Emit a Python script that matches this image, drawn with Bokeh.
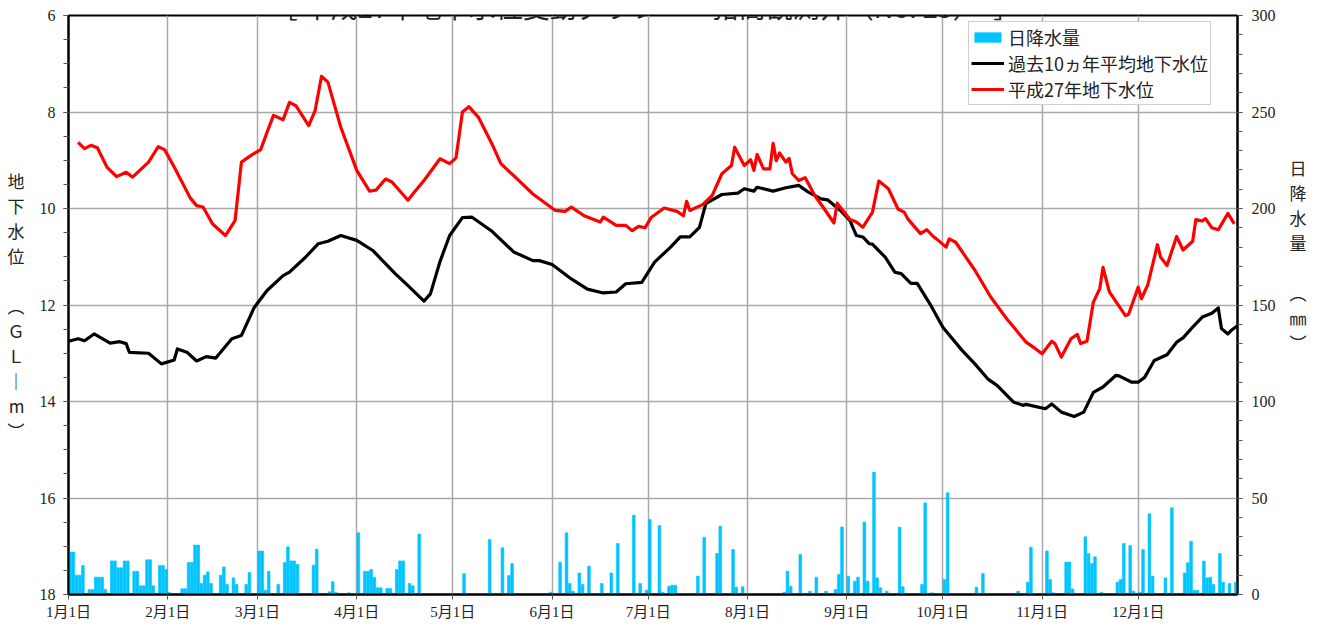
import pandas as pd
from bokeh.plotting import figure
from bokeh.models import Range1d, LinearAxis, FixedTicker, Label, Legend, LegendItem
from bokeh.embed import file_html
from bokeh.resources import INLINE

# ---------------- data ----------------
title_text = "［ 平成27年地下水位変動グラフ　　猪高観測井（No. 25）　］"
month_labels = [f"{m}月1日" for m in range(1, 13)]
year_start = pd.Timestamp("2015-01-01")
month_ticks = [(pd.Timestamp(2015, m, 1) - year_start).days for m in range(1, 13)]

# day offset from 1 Jan 2015
cur_day = [3, 5, 7, 9, 12, 15, 18, 20, 25, 28, 30, 33, 38, 40, 42, 45, 49, 52, 54, 57,
           60, 62, 64, 67, 69, 71, 75, 77, 79, 81, 85, 90, 94, 96, 99, 101, 106, 108, 111, 116,
           119, 121, 123, 125, 128, 132, 135, 139, 145, 152, 155, 157, 161, 166, 167, 171, 174, 176, 178, 180,
           182, 186, 190, 192, 193, 194, 198, 201, 204, 207, 208, 211, 213, 214, 215, 217, 219, 220, 221, 222,
           224, 225, 226, 228, 230, 233, 236, 239, 240, 244, 246, 248, 251, 253, 256, 259, 261, 262, 266, 268,
           270, 271, 274, 275, 277, 283, 288, 293, 299, 302, 304, 307, 308, 310, 313, 315, 316, 318, 320, 322,
           323, 325, 330, 331, 334, 335, 337, 340, 341, 343, 346, 348, 351, 352, 354, 355, 357, 359, 362, 364]
cur_level = [8.63, 8.76, 8.69, 8.74, 9.14, 9.34, 9.25, 9.35, 9.04, 8.72, 8.78, 9.14, 9.78, 9.94, 9.97, 10.32, 10.56, 10.25, 9.04, 8.90,
             8.78, 8.42, 8.07, 8.16, 7.80, 7.87, 8.28, 7.97, 7.26, 7.38, 8.31, 9.21, 9.64, 9.62, 9.39, 9.45, 9.83, 9.66, 9.42, 8.97,
             9.07, 8.95, 8.00, 7.89, 8.11, 8.63, 9.07, 9.32, 9.70, 10.04, 10.06, 9.97, 10.15, 10.28, 10.18, 10.35, 10.35, 10.46, 10.37, 10.40,
             10.18, 9.99, 10.06, 10.15, 9.85, 10.04, 9.92, 9.73, 9.28, 9.11, 8.73, 9.11, 8.99, 9.21, 8.88, 9.18, 9.18, 8.65, 9.01, 8.85,
             9.04, 8.96, 9.28, 9.42, 9.36, 9.73, 10.01, 10.30, 9.89, 10.23, 10.28, 10.39, 10.08, 9.43, 9.59, 10.01, 10.08, 10.21, 10.52, 10.44,
             10.58, 10.63, 10.80, 10.63, 10.70, 11.28, 11.84, 12.29, 12.77, 12.91, 13.01, 12.75, 12.80, 13.08, 12.70, 12.61, 12.80, 12.75, 11.94, 11.66,
             11.22, 11.73, 12.22, 12.19, 11.63, 11.87, 11.58, 10.75, 11.01, 11.18, 10.58, 10.86, 10.68, 10.23, 10.26, 10.21, 10.40, 10.44, 10.10, 10.32]

avg_day = [0, 3, 5, 8, 13, 16, 18, 19, 25, 29, 33, 34, 37, 40, 43, 46, 51, 54, 58, 62,
           67, 69, 74, 78, 81, 85, 90, 95, 102, 106, 111, 113, 116, 119, 123, 126, 129, 132, 139, 145,
           147, 151, 157, 162, 167, 171, 174, 179, 183, 188, 191, 194, 197, 199, 204, 209, 211, 214, 215, 220,
           224, 228, 231, 235, 237, 241, 244, 246, 248, 250, 251, 255, 258, 260, 263, 265, 269, 273, 279, 283,
           287, 290, 295, 298, 299, 305, 307, 310, 314, 317, 320, 323, 327, 328, 332, 334, 336, 339, 343, 346,
           348, 351, 354, 357, 359, 360, 362, 363, 365]
avg_level = [12.75, 12.70, 12.74, 12.60, 12.79, 12.76, 12.80, 12.98, 13.00, 13.22, 13.14, 12.91, 12.98, 13.16, 13.07, 13.10, 12.70, 12.63, 12.05, 11.70,
             11.39, 11.32, 11.01, 10.73, 10.68, 10.56, 10.66, 10.87, 11.35, 11.60, 11.92, 11.77, 11.10, 10.56, 10.19, 10.18, 10.32, 10.46, 10.90, 11.08,
             11.08, 11.16, 11.46, 11.67, 11.75, 11.73, 11.56, 11.53, 11.11, 10.80, 10.59, 10.59, 10.39, 9.90, 9.71, 9.68, 9.59, 9.64, 9.56, 9.64,
             9.57, 9.52, 9.66, 9.80, 9.82, 10.04, 10.25, 10.56, 10.59, 10.73, 10.74, 11.01, 11.32, 11.35, 11.55, 11.55, 11.98, 12.46, 12.94, 13.22,
             13.53, 13.67, 14.01, 14.08, 14.06, 14.15, 14.05, 14.22, 14.31, 14.22, 13.81, 13.70, 13.46, 13.47, 13.60, 13.60, 13.50, 13.15, 13.03, 12.77,
             12.68, 12.46, 12.25, 12.17, 12.06, 12.49, 12.60, 12.53, 12.43]

rain_day = [0, 1, 2, 3, 4, 6, 7, 8, 9, 10, 11, 13, 14, 15, 16, 17, 18, 20, 21, 22,
            23, 24, 25, 26, 28, 29, 30, 31, 35, 36, 37, 38, 39, 40, 41, 42, 43, 44, 47, 48,
            49, 51, 52, 55, 56, 59, 60, 61, 62, 65, 67, 68, 69, 70, 71, 76, 77, 81, 82, 83,
            87, 90, 92, 93, 94, 95, 96, 97, 99, 100, 102, 103, 104, 106, 107, 109, 123, 131, 135, 137,
            138, 150, 153, 155, 156, 157, 159, 160, 162, 166, 169, 171, 176, 178, 180, 181, 184, 185, 187, 188,
            189, 196, 198, 202, 203, 207, 208, 210, 223, 224, 225, 228, 231, 233, 236, 239, 240, 241, 243, 245,
            246, 248, 249, 251, 252, 253, 255, 259, 260, 266, 267, 269, 273, 274, 283, 285, 296, 299, 300, 301,
            305, 306, 307, 311, 312, 313, 317, 318, 319, 320, 322, 327, 328, 329, 331, 332, 334, 335, 337, 338,
            342, 344, 348, 349, 350, 351, 352, 354, 355, 356, 357, 359, 360, 362, 364]
rain_mm = [22, 22, 10, 10, 15, 2.6, 2.6, 9, 9, 9, 2.6, 17.4, 17.4, 13.8, 13.8, 17.4, 17.4, 12, 12, 4.5,
           4.5, 18, 18, 4.5, 15, 15, 13, 1, 3, 3, 16.6, 16.6, 25.6, 25.6, 5.7, 10, 11.7, 5.7, 10, 14.3,
           5.2, 8.6, 5.2, 5.2, 11.4, 22.5, 22.5, 2.2, 12, 5.2, 16.6, 24.7, 17.4, 17.4, 15.5, 15.2, 23.5, 1.4, 6.6, 1,
           0.9, 32, 12, 12, 13, 9, 3.5, 3.5, 3.1, 3.1, 13, 17.4, 17.4, 5.7, 4.5, 31.3, 10.7, 28.5, 24.2, 9.8,
           16, 1.2, 16.7, 32, 5.7, 1.7, 11.2, 5.2, 14.7, 5.7, 11.2, 26.4, 41.1, 5.7, 2.2, 38.9, 35.7, 1.2, 4.3, 4.8,
           4.8, 9.5, 29.7, 21.2, 35.4, 23.3, 3.8, 4, 1.2, 12.1, 4.3, 20.7, 1.7, 9, 1.7, 2.6, 10.4, 35, 9.5, 6.9,
           9, 37.5, 6.9, 63.4, 8.6, 3.5, 1.7, 34.9, 4, 5.2, 47.5, 0.9, 7.8, 52.7, 3.8, 10.9, 1.7, 6.4, 24.5, 0.5,
           22.5, 7.8, 0.9, 16.8, 16.8, 2.9, 29.9, 21.2, 16.1, 19.5, 1.2, 6.4, 7.8, 26.4, 25.4, 1.7, 1.2, 23.3, 41.8, 9.5,
           8.6, 44.9, 11.2, 16.4, 27.6, 2.2, 2.2, 17.3, 8.6, 9, 5.2, 21.2, 6.4, 5.7, 6.4]

level_ticks = [6, 8, 10, 12, 14, 16, 18]
rain_ticks = [0, 50, 100, 150, 200, 250, 300]

left_label_chars = ["地", "下", "水", "位", "　", "︵", "Ｇ", "Ｌ", "｜", "m", "︶"]
right_label_chars = ["日", "降", "水", "量", "　", "︵", "㎜", "︶", "　", "　", "　", "　"]

# ---------------- layout constants ----------------
FRAME_TOP = 15
FRAME_H = 579
FRAME_LEFT = 68
FRAME_W = 1169
PX_PER_UNIT = FRAME_H / 12.0
PX_PER_DAY = FRAME_W / 365.0

def ydata(canvas_y):
    return 6 + (canvas_y - FRAME_TOP) / PX_PER_UNIT

def xdata(canvas_x):
    return (canvas_x - FRAME_LEFT) / PX_PER_DAY

CJK = "Noto Sans CJK JP"
SERIF = "'Liberation Serif', 'Noto Sans CJK JP'"
TXT = "#222222"

p = figure(width=1310, height=628, x_range=Range1d(0, 365), y_range=Range1d(18, 6),
           output_backend="svg", toolbar_location=None,
           min_border_left=FRAME_LEFT, min_border_right=1310 - FRAME_LEFT - FRAME_W,
           min_border_top=FRAME_TOP, min_border_bottom=628 - FRAME_TOP - FRAME_H)
p.background_fill_color = "white"
p.border_fill_color = "white"
p.outline_line_color = "black"
p.outline_line_width = 2

p.extra_y_ranges = {"rain": Range1d(0, 300)}

# grids
p.xgrid.ticker = FixedTicker(ticks=month_ticks)
p.ygrid.ticker = FixedTicker(ticks=level_ticks[1:-1])
for g in (p.xgrid, p.ygrid):
    g.grid_line_color = "#a8a8a8"
    g.grid_line_width = 1.5

# x axis
xa = p.xaxis[0]
xa.ticker = FixedTicker(ticks=month_ticks)
xa.major_label_overrides = {t: lab for t, lab in zip(month_ticks, month_labels)}
xa.major_label_text_font = SERIF
xa.major_label_text_font_size = "15px"
xa.major_label_text_color = TXT
xa.major_label_standoff = 4
xa.major_tick_out = 5
xa.major_tick_in = 0
xa.minor_tick_line_color = None
xa.axis_line_width = 2
xa.axis_line_color = "black"
xa.major_tick_line_color = "#555555"

# left axis
ya = p.yaxis[0]
ya.ticker = FixedTicker(ticks=level_ticks, minor_ticks=[6 + 0.5 * i for i in range(25)])
ya.major_label_text_font = SERIF
ya.major_label_text_font_size = "16px"
ya.major_label_text_color = TXT
ya.major_label_standoff = 8
ya.major_tick_out = 5
ya.major_tick_in = 0
ya.minor_tick_out = 5
ya.minor_tick_in = 0
ya.axis_line_width = 2
ya.axis_line_color = "black"
ya.major_tick_line_color = "#555555"
ya.minor_tick_line_color = "#555555"
ya.axis_label = "\n".join(left_label_chars)
ya.axis_label_orientation = "horizontal"
ya.axis_label_text_font = CJK
ya.axis_label_text_font_size = "17px"
ya.axis_label_text_font_style = "normal"
ya.axis_label_text_color = TXT
ya.axis_label_text_line_height = 1.0
ya.axis_label_standoff = 12

# right axis
ra = LinearAxis(y_range_name="rain",
                ticker=FixedTicker(ticks=rain_ticks, minor_ticks=list(range(0, 301, 10))))
ra.major_label_text_font = SERIF
ra.major_label_text_font_size = "16px"
ra.major_label_text_color = TXT
ra.major_label_standoff = 9
ra.major_tick_out = 5
ra.major_tick_in = 0
ra.minor_tick_out = 5
ra.minor_tick_in = 0
ra.axis_line_width = 2
ra.axis_line_color = "black"
ra.major_tick_line_color = "#555555"
ra.minor_tick_line_color = "#555555"
ra.axis_label = "\n".join(right_label_chars)
ra.axis_label_orientation = "horizontal"
ra.axis_label_text_font = CJK
ra.axis_label_text_font_size = "17px"
ra.axis_label_text_font_style = "normal"
ra.axis_label_text_color = TXT
ra.axis_label_text_line_height = 1.0
ra.axis_label_standoff = 11
p.add_layout(ra, "right")

# glyphs
bars = p.vbar(x=[d + 0.5 for d in rain_day], top=rain_mm, bottom=0, width=0.85,
              y_range_name="rain", fill_color="#00c4ff", line_color="#00c4ff", line_width=0.6)
avg_r = p.line(avg_day, avg_level, line_color="black", line_width=3.2, line_join="round")
cur_r = p.line(cur_day, cur_level, line_color="#ff0000", line_width=3.2, line_join="round")

legend = Legend(items=[LegendItem(label="日降水量", renderers=[bars]),
                       LegendItem(label="過去10ヵ年平均地下水位", renderers=[avg_r]),
                       LegendItem(label="平成27年地下水位", renderers=[cur_r])],
                location=(900, 489))
legend.label_text_font = CJK
legend.label_text_font_size = "18px"
legend.label_text_color = TXT
legend.glyph_width = 33
legend.glyph_height = 12
legend.label_standoff = 4
legend.spacing = 0
legend.padding = 2
legend.margin = 0
legend.border_line_color = "#a0a0a0"
legend.border_line_width = 1
legend.background_fill_alpha = 1
p.add_layout(legend)

# title (its upper part lies beyond the top of the page, as in the original)
p.add_layout(Label(x=xdata(645), y=ydata(6), text=title_text, text_font=CJK,
                   text_font_size="27px", text_color=TXT, text_align="center",
                   text_baseline="alphabetic"))

open("out.html", "w").write(file_html(p, INLINE))
